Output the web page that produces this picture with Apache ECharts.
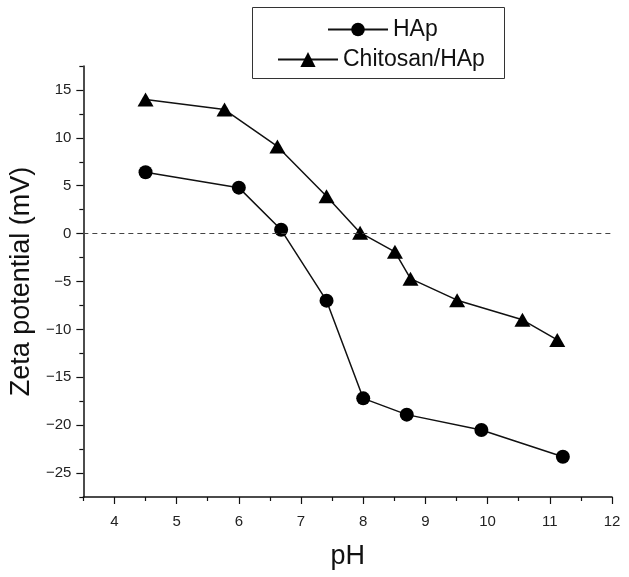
<!DOCTYPE html>
<html>
<head>
<meta charset="utf-8">
<title>Zeta potential vs pH</title>
<script src="https://cdn.jsdelivr.net/npm/echarts@6/dist/echarts.min.js"></script>
<style>
  html, body { margin: 0; padding: 0; background: #fff; }
  #chart { width: 629px; height: 577px; }
</style>
</head>
<body>
<div id="chart"></div>
<script>
  // pH values and zeta potential (mV)
  var hapPH = [4.5, 6.0, 6.68, 7.41, 8.0, 8.7, 9.9, 11.21]
  var hapZeta = [6.4, 4.8, 0.4, -7.0, -17.2, -18.9, -20.5, -23.3]
  var chitoPH = [4.5, 5.77, 6.62, 7.41, 7.95, 8.51, 8.76, 9.51, 10.56, 11.12]
  var chitoZeta = [14.0, 12.95, 9.1, 3.9, 0.1, -1.9, -4.7, -6.95, -9.0, -11.1]

  // axis ticks
  var xMajor = [4, 5, 6, 7, 8, 9, 10, 11, 12]
  var xMinor = [3.5, 4.5, 5.5, 6.5, 7.5, 8.5, 9.5, 10.5, 11.5]
  var yMajor = [-25, -20, -15, -10, -5, 0, 5, 10, 15]
  var yMinor = [-27.5, -22.5, -17.5, -12.5, -7.5, -2.5, 2.5, 7.5, 12.5, 17.5]

  function pairs (xs, ys) {
    return xs.map(function (x, i) { return [x, ys[i]] })
  }

  var font = 'Arial, "Liberation Sans", sans-serif'
  var chart = echarts.init(document.getElementById('chart'))

  chart.setOption({
    animation: false,
    grid: { left: 83, right: 17, top: 66, bottom: 80 },
    legend: [{
      data: ['HAp'],
      left: 322,
      top: 13,
      itemWidth: 60,
      itemHeight: 17,
      textStyle: { fontFamily: font, fontSize: 23, color: '#111' }
    }, {
      data: ['Chitosan/HAp'],
      left: 272,
      top: 43,
      itemWidth: 60,
      itemHeight: 19,
      textStyle: { fontFamily: font, fontSize: 23, color: '#111' }
    }],
    graphic: [{
      type: 'rect',
      shape: { x: 252.5, y: 7.5, width: 252, height: 71 },
      style: { fill: 'none', stroke: '#333', lineWidth: 1 }
    }],
    xAxis: [{
      type: 'value',
      min: 3.5,
      max: 12,
      name: 'pH',
      nameLocation: 'middle',
      nameGap: 46,
      nameTextStyle: { fontFamily: font, fontSize: 27, color: '#111' },
      axisLine: { onZero: false, lineStyle: { color: '#111', width: 1.5 } },
      axisTick: { customValues: xMajor, length: 7, lineStyle: { color: '#111', width: 1.2 } },
      axisLabel: { customValues: xMajor, margin: 17, fontFamily: font, fontSize: 15, color: '#222' },
      splitLine: { show: false }
    }, {
      type: 'value',
      min: 3.5,
      max: 12,
      position: 'bottom',
      axisLine: { show: false, onZero: false },
      axisTick: { customValues: xMinor, length: 4, lineStyle: { color: '#111', width: 1.2 } },
      axisLabel: { show: false },
      splitLine: { show: false }
    }],
    yAxis: [{
      type: 'value',
      min: -27.5,
      max: 17.5,
      name: 'Zeta potential (mV)',
      nameLocation: 'middle',
      nameGap: 40,
      nameTextStyle: { fontFamily: font, fontSize: 27, color: '#111' },
      axisLine: { show: true, onZero: false, lineStyle: { color: '#111', width: 1.5 } },
      axisTick: { show: true, customValues: yMajor, length: 7, lineStyle: { color: '#111', width: 1.2 } },
      axisLabel: {
        customValues: yMajor,
        margin: 12,
        fontFamily: font,
        fontSize: 15,
        color: '#222',
        formatter: function (v) { return String(v).replace('-', '\u2212') }
      },
      splitLine: { show: false }
    }, {
      type: 'value',
      min: -27.5,
      max: 17.5,
      position: 'left',
      axisLine: { show: false, onZero: false },
      axisTick: { show: true, customValues: yMinor, length: 4, lineStyle: { color: '#111', width: 1.2 } },
      axisLabel: { show: false },
      splitLine: { show: false }
    }],
    series: [{
      name: 'HAp',
      type: 'line',
      data: pairs(hapPH, hapZeta),
      symbol: 'circle',
      symbolSize: 14,
      itemStyle: { color: '#000' },
      lineStyle: { color: '#111', width: 1.5 },
      markLine: {
        silent: true,
        symbol: 'none',
        label: { show: false },
        lineStyle: { color: '#444', type: [5, 4], width: 1 },
        data: [{ yAxis: 0 }]
      }
    }, {
      name: 'Chitosan/HAp',
      type: 'line',
      data: pairs(chitoPH, chitoZeta),
      symbol: 'triangle',
      symbolSize: [16, 14],
      itemStyle: { color: '#000' },
      lineStyle: { color: '#111', width: 1.5 }
    }]
  })
</script>
</body>
</html>
